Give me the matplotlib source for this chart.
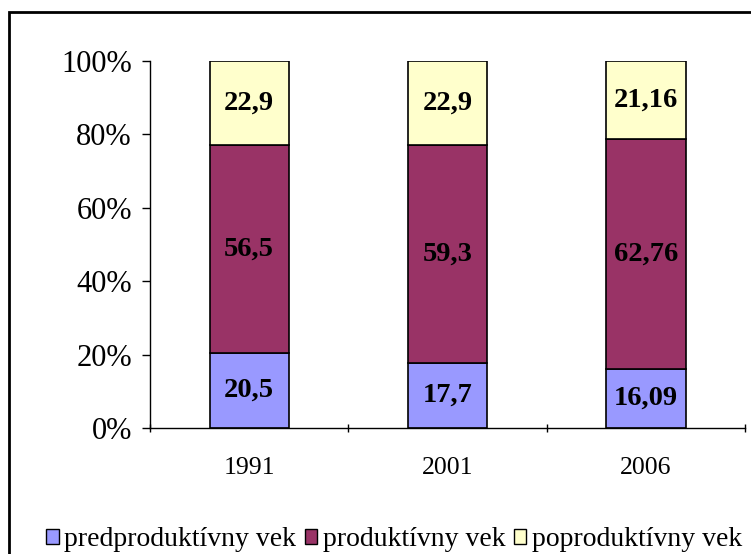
import matplotlib
matplotlib.use("Agg")
import matplotlib.pyplot as plt
from matplotlib.patches import Rectangle
import numpy as np

years = ["1991", "2001", "2006"]
series_names = ["predproduktívny vek", "produktívny vek", "poproduktívny vek"]
pre = [20.5, 17.7, 16.09]
prod = [56.5, 59.3, 62.76]
post = [22.9, 22.9, 21.16]
labels_pre = ["20,5", "17,7", "16,09"]
labels_prod = ["56,5", "59,3", "62,76"]
labels_post = ["22,9", "22,9", "21,16"]
colors = ["#9999FF", "#993366", "#FFFFCC"]

plt.rcParams['font.family'] = ['Liberation Serif', 'DejaVu Serif']

fig = plt.figure(figsize=(7.51, 5.54), dpi=100)
W, H = 751, 554
ax = fig.add_axes([150 / W, 1 - 428 / H, 595 / W, (428 - 61) / H])

data = np.array([pre, prod, post])
totals = data.sum(axis=0)
pct = data / totals * 100
x = np.arange(len(years))
bottom = np.zeros(len(years))
all_labels = [labels_pre, labels_prod, labels_post]
for i in range(3):
    ax.bar(x, pct[i], bottom=bottom, width=0.4, color=colors[i],
           edgecolor="black", linewidth=1.2, label=series_names[i])
    for j in range(len(years)):
        ax.text(x[j], bottom[j] + pct[i][j] / 2, all_labels[i][j],
                ha="center", va="center", fontsize=20.5, fontweight="bold")
    bottom += pct[i]

ax.set_xlim(-0.5, 2.5)
ax.set_ylim(0, 100)
ax.set_yticks([0, 20, 40, 60, 80, 100])
ax.set_yticklabels(["0%", "20%", "40%", "60%", "80%", "100%"], fontsize=22)
ax.set_xticks([-0.5, 0.5, 1.5, 2.5], minor=False)
ax.set_xticklabels([])
ax.set_xticks(x, minor=True)
ax.set_xticklabels(years, minor=True, fontsize=18.5)
ax.tick_params(axis="x", which="minor", length=0, pad=21)
ax.tick_params(axis="x", which="major", length=6, direction="inout", width=1)
ax.tick_params(axis="y", length=6, direction="out", width=1, pad=7)
for s in ["top", "right"]:
    ax.spines[s].set_visible(False)
ax.spines["left"].set_linewidth(1)
ax.spines["bottom"].set_linewidth(1)

# outer chart frame
fig.patches.append(Rectangle((9 / W, -0.05), 1.2, 1 - 12 / H + 0.05,
                             transform=fig.transFigure, fill=False,
                             edgecolor="black", linewidth=2, clip_on=False))

handles = [Rectangle((0, 0), 1, 1, facecolor=c, edgecolor="black", linewidth=1)
           for c in colors]
fig.legend(handles, series_names, loc="center", bbox_to_anchor=(394 / W, 1 - 540 / H),
           ncol=3, frameon=False, fontsize=20, handlelength=0.45, handleheight=0.45,
           handletextpad=0.2, columnspacing=0.3, borderpad=0)

fig.savefig("out.png", dpi=100)
